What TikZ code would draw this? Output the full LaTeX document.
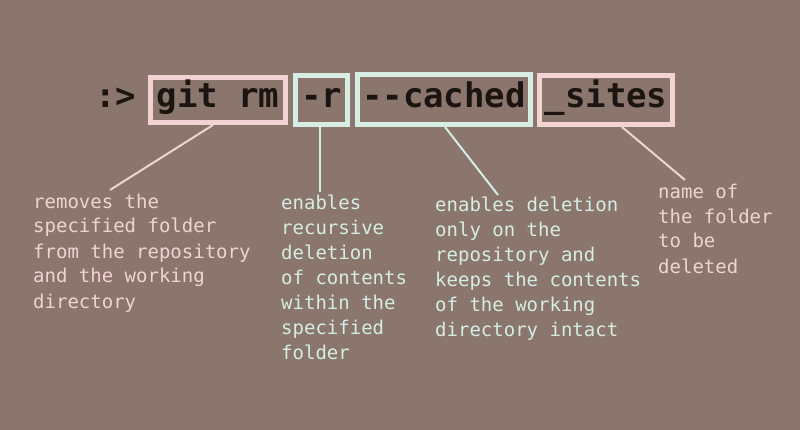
\documentclass[tikz,border=0pt]{standalone}
\usepackage{fontspec}
\newfontfamily\codefont{DejaVu Sans Mono}
\definecolor{bgc}{HTML}{8A766C}
\definecolor{pinkc}{HTML}{F2D2D2}
\definecolor{mintc}{HTML}{D5EDE3}
\definecolor{inkc}{HTML}{1C1410}
\tikzset{
  cmdbox/.style={draw, line width=5pt, inner sep=0pt, text height=24pt, text depth=8pt,
    font=\codefont\bfseries\fontsize{34}{40}\selectfont, text=inkc},
  pinkbox/.style={cmdbox, draw=pinkc},
  mintbox/.style={cmdbox, draw=mintc},
  note/.style={anchor=base west, inner sep=0pt, align=left,
    font=\codefont\fontsize{19}{25}\selectfont},
  link/.style={line width=2pt}
}
\begin{document}
\begin{tikzpicture}[x=1pt,y=-1pt]
\useasboundingbox[fill=bgc] (0,0) rectangle (800,430);
\node[anchor=base west, inner sep=0pt, font=\codefont\bfseries\fontsize{34}{40}\selectfont, text=inkc] (prompt) at (95,108) {:>};
\node[pinkbox, minimum width=135pt, minimum height=45pt] (gitrm) at (218,100) {git rm};
\node[mintbox, minimum width=52pt, minimum height=49pt] (rflag) at (321.5,100) {-r};
\node[mintbox, minimum width=173pt, minimum height=50pt] (cached) at (444,99.5) {--cached};
\node[pinkbox, minimum width=133pt, minimum height=49pt] (sites) at (606,100) {\_sites};

% base anchor of a multi-line node lies on its last line
\node[note, text=pinkc] (n1) at (33,308) {removes the\\specified folder\\from the repository\\and the working\\directory};
\node[note, text=mintc] (n2) at (281,359) {enables\\recursive\\deletion\\of contents\\within the\\specified\\folder};
\node[note, text=mintc] (n3) at (435,336) {enables deletion\\only on the\\repository and\\keeps the contents\\of the working\\directory intact};
\node[note, text=pinkc] (n4) at (658,273) {name of\\the folder\\to be\\deleted};

\coordinate (e1) at (110,190);
\coordinate (e2) at (320,192);
\coordinate (e3) at (498,195);
\coordinate (e4) at (685,180);
\draw[link, pinkc] ([xshift=-5pt]gitrm.south) -- (e1);
\draw[link, mintc] ([xshift=-1.5pt]rflag.south) -- (e2);
\draw[link, mintc] ([xshift=1pt]cached.south) -- (e3);
\draw[link, pinkc] ([xshift=16pt]sites.south) -- (e4);
\end{tikzpicture}
\end{document}
